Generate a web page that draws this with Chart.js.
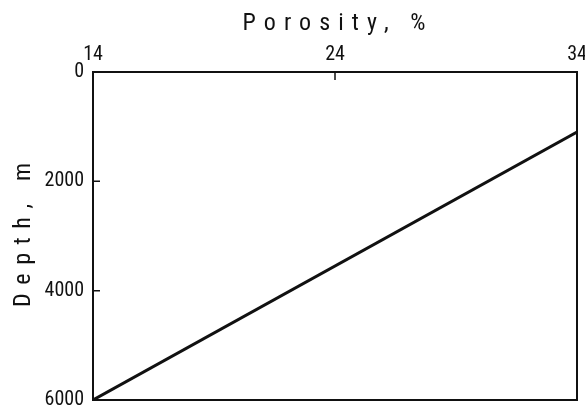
<!DOCTYPE html>
<html>
<head>
<meta charset="utf-8">
<title>Porosity vs Depth</title>
<script src="https://cdn.jsdelivr.net/npm/chart.js@4.4.1/dist/chart.umd.min.js"></script>
<style>
  html, body { margin: 0; padding: 0; background: #fff; }
  #wrap { width: 585px; height: 410px; }
</style>
</head>
<body>
<div id="wrap"><canvas id="chart"></canvas></div>
<script>
// dados
const porosity = [14, 34];
const depth = [6000, 1100];
const xTicks = [14, 24, 34];
const yTicks = [0, 2000, 4000, 6000];
const xTitle = 'Porosity, %';
const yTitle = 'Depth, m';

const FONT = "'Roboto Condensed', 'Liberation Sans', sans-serif";

// texto espaçado para ocupar uma largura fixa
function spacedText(ctx, text, cx, y, span) {
  ctx.letterSpacing = '0px';
  const natural = ctx.measureText(text).width;
  const gap = (span - natural) / (text.length - 1);
  ctx.letterSpacing = gap + 'px';
  ctx.textAlign = 'left';
  ctx.fillText(text, cx - span / 2, y);
}

// caixa do gráfico, ticks para dentro e títulos
const framePlugin = {
  id: 'frame',
  afterDraw(chart) {
    const { ctx, chartArea: a, scales } = chart;
    ctx.save();
    ctx.strokeStyle = '#111';
    ctx.lineWidth = 2;
    ctx.strokeRect(a.left, a.top, a.right - a.left, a.bottom - a.top);

    ctx.lineWidth = 1.5;
    ctx.beginPath();
    xTicks.slice(1, -1).forEach(v => {
      const px = scales.x.getPixelForValue(v);
      ctx.moveTo(px, a.top);
      ctx.lineTo(px, a.top + 8);
    });
    yTicks.slice(1, -1).forEach(v => {
      const py = scales.y.getPixelForValue(v);
      ctx.moveTo(a.left, py);
      ctx.lineTo(a.left + 7, py);
    });
    ctx.stroke();

    ctx.fillStyle = '#111';
    ctx.font = '24px ' + FONT;
    ctx.textBaseline = 'alphabetic';
    spacedText(ctx, xTitle, 334, 30, 183);

    ctx.translate(30, 235);
    ctx.rotate(-Math.PI / 2);
    spacedText(ctx, yTitle, 0, 0, 144);
    ctx.restore();
  }
};

new Chart(document.getElementById('chart'), {
  type: 'scatter',
  data: {
    datasets: [{
      data: porosity.map((p, i) => ({ x: p, y: depth[i] })),
      showLine: true,
      borderColor: '#111',
      borderWidth: 3,
      pointRadius: 0,
      fill: false
    }]
  },
  options: {
    responsive: true,
    maintainAspectRatio: false,
    animation: false,
    layout: { padding: { left: 0, right: 8, top: 0, bottom: 10 } },
    plugins: { legend: { display: false }, tooltip: { enabled: false } },
    scales: {
      x: {
        type: 'linear',
        position: 'top',
        min: 14,
        max: 34,
        afterBuildTicks: s => { s.ticks = xTicks.map(v => ({ value: v })); },
        afterFit: s => { s.height = 72; s.paddingLeft = 0; s.paddingRight = 0; },
        grid: { display: false, drawTicks: false },
        border: { display: false },
        ticks: { color: '#111', font: { family: FONT, size: 20 }, padding: 5, callback: v => String(v) }
      },
      y: {
        type: 'linear',
        reverse: true,
        min: 0,
        max: 6000,
        afterBuildTicks: s => { s.ticks = yTicks.map(v => ({ value: v })); },
        afterFit: s => { s.width = 93; s.paddingTop = 0; s.paddingBottom = 0; },
        grid: { display: false, drawTicks: false },
        border: { display: false },
        ticks: { color: '#111', font: { family: FONT, size: 20 }, padding: 9, callback: v => String(v) }
      }
    }
  },
  plugins: [framePlugin]
});
</script>
</body>
</html>
